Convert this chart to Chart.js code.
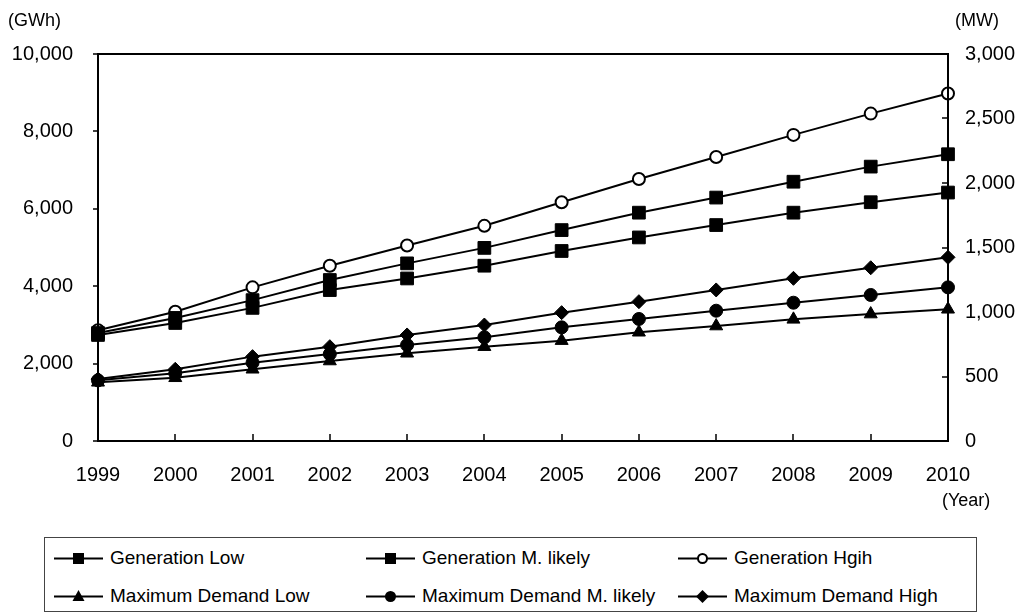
<!DOCTYPE html>
<html lang="en">
<head>
<meta charset="UTF-8" />
<title>Generation and Maximum Demand</title>
<script src="https://cdn.jsdelivr.net/npm/chart.js"></script>
<style>
    body {
        margin: 0;
        background: #ffffff;
        font-family: "Liberation Sans", Arial, sans-serif;
        color: #000;
    }
    #wrap {
        position: relative;
        width: 1026px;
        height: 615px;
        overflow: hidden;
    }
    #box {
        position: absolute;
        left: 0;
        top: 0;
        width: 1026px;
        height: 530px;
    }
    .unit {
        position: absolute;
        font-size: 18px;
        line-height: 20px;
    }
    #legend {
        position: absolute;
        left: 44px;
        top: 537px;
        width: 933px;
        height: 75px;
        border: 1px solid #444;
        box-sizing: border-box;
    }
    .item {
        position: absolute;
        display: flex;
        align-items: center;
        font-size: 19px;
        height: 24px;
    }
    .item svg {
        margin-right: 7px;
    }
</style>
</head>
<body>
<div id="wrap">
    <div id="box"><canvas id="chart"></canvas></div>
    <div class="unit" style="left:8px; top:10px;">(GWh)</div>
    <div class="unit" style="left:955px; top:10px;">(MW)</div>
    <div class="unit" style="left:942px; top:490px;">(Year)</div>
    <div id="legend"></div>
</div>

<script>
    // data
    const years = ['1999', '2000', '2001', '2002', '2003', '2004', '2005', '2006', '2007', '2008', '2009', '2010'];

    // GWh, left axis
    const genLow = [2740, 3050, 3440, 3900, 4200, 4530, 4910, 5260, 5580, 5900, 6170, 6420];
    const genLikely = [2790, 3180, 3640, 4160, 4590, 4990, 5450, 5900, 6290, 6700, 7090, 7410];
    const genHigh = [2860, 3340, 3970, 4530, 5050, 5560, 6170, 6770, 7340, 7910, 8460, 8980];

    // MW, right axis
    const mdLow = [455, 490, 556, 620, 680, 731, 778, 843, 891, 943, 984, 1021];
    const mdLikely = [470, 525, 607, 674, 744, 804, 881, 946, 1010, 1072, 1132, 1191];
    const mdHigh = [480, 556, 654, 731, 822, 899, 995, 1080, 1171, 1261, 1343, 1424];

    const font = '"Liberation Sans", Arial, sans-serif';

    function series(label, data, axis, style, radius, fill) {
        return {
            label: label,
            data: data,
            yAxisID: axis,
            borderColor: '#000',
            borderWidth: 2,
            pointStyle: style,
            pointRadius: radius,
            pointHoverRadius: radius,
            pointBackgroundColor: fill,
            pointBorderColor: '#000',
            pointBorderWidth: fill === '#fff' ? 2 : 1,
            tension: 0,
            fill: false
        };
    }

    const datasets = [
        series('Generation Low', genLow, 'y', 'rect', 9, '#000'),
        series('Generation M. likely', genLikely, 'y', 'rect', 9, '#000'),
        series('Generation Hgih', genHigh, 'y', 'circle', 6, '#fff'),
        series('Maximum Demand Low', mdLow, 'y1', 'triangle', 7.5, '#000'),
        series('Maximum Demand M. likely', mdLikely, 'y1', 'circle', 6.5, '#000'),
        series('Maximum Demand High', mdHigh, 'y1', 'rectRot', 7, '#000')
    ];

    // frame and tick marks drawn by hand (inward on x and right axis, outward on left)
    const framePlugin = {
        id: 'frame',
        afterDraw(chart) {
            const ctx = chart.ctx;
            const a = chart.chartArea;
            const sx = chart.scales.x, sy = chart.scales.y, sy1 = chart.scales.y1;
            ctx.save();
            ctx.strokeStyle = '#000';
            ctx.lineWidth = 2;
            ctx.strokeRect(a.left, a.top, a.right - a.left, a.bottom - a.top);
            ctx.beginPath();
            sy.ticks.forEach(t => {
                const py = Math.round(sy.getPixelForValue(t.value));
                ctx.moveTo(a.left - 5, py);
                ctx.lineTo(a.left, py);
            });
            sy1.ticks.forEach(t => {
                const py = Math.round(sy1.getPixelForValue(t.value));
                ctx.moveTo(a.right - 6, py);
                ctx.lineTo(a.right, py);
            });
            years.forEach((y, i) => {
                const px = Math.round(sx.getPixelForValue(i));
                ctx.moveTo(px, a.bottom - 7);
                ctx.lineTo(px, a.bottom);
            });
            ctx.lineWidth = 1.5;
            ctx.stroke();
            ctx.restore();
        }
    };

    new Chart(document.getElementById('chart'), {
        type: 'line',
        data: { labels: years, datasets: datasets },
        options: {
            responsive: true,
            maintainAspectRatio: false,
            animation: false,
            layout: { padding: { top: 54, left: 0, right: 0, bottom: 0 } },
            plugins: {
                legend: { display: false },
                tooltip: { enabled: false }
            },
            scales: {
                x: {
                    type: 'category',
                    offset: false,
                    grid: { display: false, drawTicks: false },
                    border: { display: false },
                    ticks: {
                        color: '#000',
                        font: { family: font, size: 20 },
                        padding: 22,
                        maxRotation: 0,
                        autoSkip: false
                    },
                    afterFit: s => { s.height = 89; }
                },
                y: {
                    position: 'left',
                    min: 0,
                    max: 10000,
                    grid: { display: false, drawTicks: false },
                    border: { display: false },
                    ticks: {
                        stepSize: 2000,
                        color: '#000',
                        font: { family: font, size: 20 },
                        padding: 25,
                        callback: v => v.toLocaleString('en-US')
                    },
                    afterFit: s => { s.width = 98; }
                },
                y1: {
                    position: 'right',
                    min: 0,
                    max: 3000,
                    grid: { display: false, drawTicks: false },
                    border: { display: false },
                    ticks: {
                        stepSize: 500,
                        color: '#000',
                        font: { family: font, size: 20 },
                        padding: 17,
                        callback: v => v.toLocaleString('en-US')
                    },
                    afterFit: s => { s.width = 78; }
                }
            }
        },
        plugins: [framePlugin]
    });

    // html legend, 3 columns x 2 rows
    const markerSvg = {
        'rect': '<rect x="19" y="6" width="11" height="11" fill="#000"/>',
        'circle-open': '<circle cx="24.5" cy="11.5" r="4.5" fill="#fff" stroke="#000" stroke-width="2"/>',
        'triangle': '<polygon points="24.5,5 30.5,16 18.5,16" fill="#000"/>',
        'circle': '<circle cx="24.5" cy="11.5" r="5.5" fill="#000"/>',
        'rectRot': '<polygon points="24.5,5 31,11.5 24.5,18 18,11.5" fill="#000"/>'
    };
    const legendMarks = ['rect', 'rect', 'circle-open', 'triangle', 'circle', 'rectRot'];
    const colX = [9, 321, 633];
    const rowY = [8, 46];
    const legend = document.getElementById('legend');
    datasets.forEach((ds, i) => {
        const el = document.createElement('div');
        el.className = 'item';
        el.style.left = colX[i % 3] + 'px';
        el.style.top = rowY[Math.floor(i / 3)] + 'px';
        el.innerHTML = '<svg width="49" height="23" viewBox="0 0 49 23">' +
            '<line x1="0" y1="11.5" x2="49" y2="11.5" stroke="#000" stroke-width="2"/>' +
            markerSvg[legendMarks[i]] + '</svg><span>' + ds.label + '</span>';
        legend.appendChild(el);
    });
</script>
</body>
</html>
